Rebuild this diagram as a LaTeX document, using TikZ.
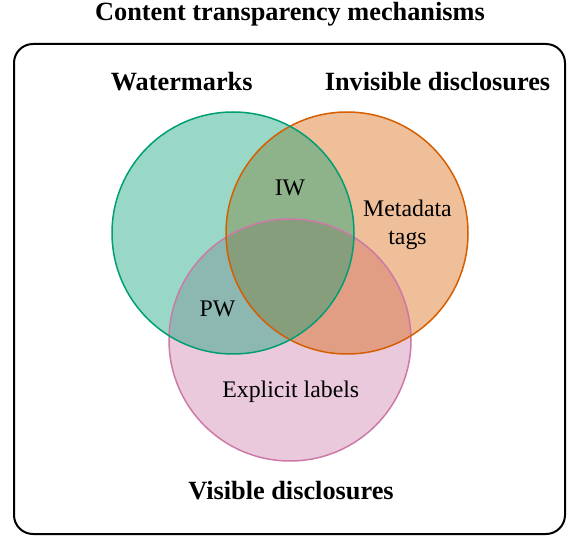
\documentclass[tikz,border=0pt]{standalone}
\usepackage{fontspec}
\setmainfont{Liberation Serif}
\definecolor{cgreen}{HTML}{009E73}
\definecolor{corange}{HTML}{D55E00}
\definecolor{cpink}{HTML}{CC79A7}
\begin{document}
\begin{tikzpicture}[x=1pt,y=-1pt,
  setfill/.style={fill opacity=0.4},
  setline/.style={line width=1.5pt},
  lab/.style={font=\fontsize{23.8}{28.5}\selectfont, anchor=base, inner sep=0pt, align=center},
  head/.style={font=\fontsize{26.3}{31}\selectfont\bfseries, anchor=base, inner sep=0pt}]
\useasboundingbox (0,0) rectangle (568,537);
\draw[line width=2pt, rounded corners=19pt] (14,44) rectangle (565,534);
% fills
\fill[cpink, setfill] (290,340) circle[radius=121pt];
\fill[corange, setfill] (347,233) circle[radius=121pt];
\fill[cgreen, setfill] (233,233) circle[radius=121pt];
% outlines
\draw[cpink, setline] (290,340) circle[radius=121pt];
\draw[corange, setline] (347,233) circle[radius=121pt];
\draw[cgreen, setline] (233,233) circle[radius=121pt];
% texts
\node[head] (title) at (290,21) {Content transparency mechanisms};
\node[head] (wm) at (181.7,91) {Watermarks};
\node[head] (inv) at (437.5,91) {Invisible disclosures};
\node[head] (vis) at (291,499) {Visible disclosures};
\node[lab] (iw) at (290,195.7) {IW};
\node[lab] (meta) at (407.5,245) {Metadata\\tags};
\node[lab] (pw) at (217.5,316.7) {PW};
\node[lab] (expl) at (290.8,397.3) {Explicit labels};
\end{tikzpicture}
\end{document}
